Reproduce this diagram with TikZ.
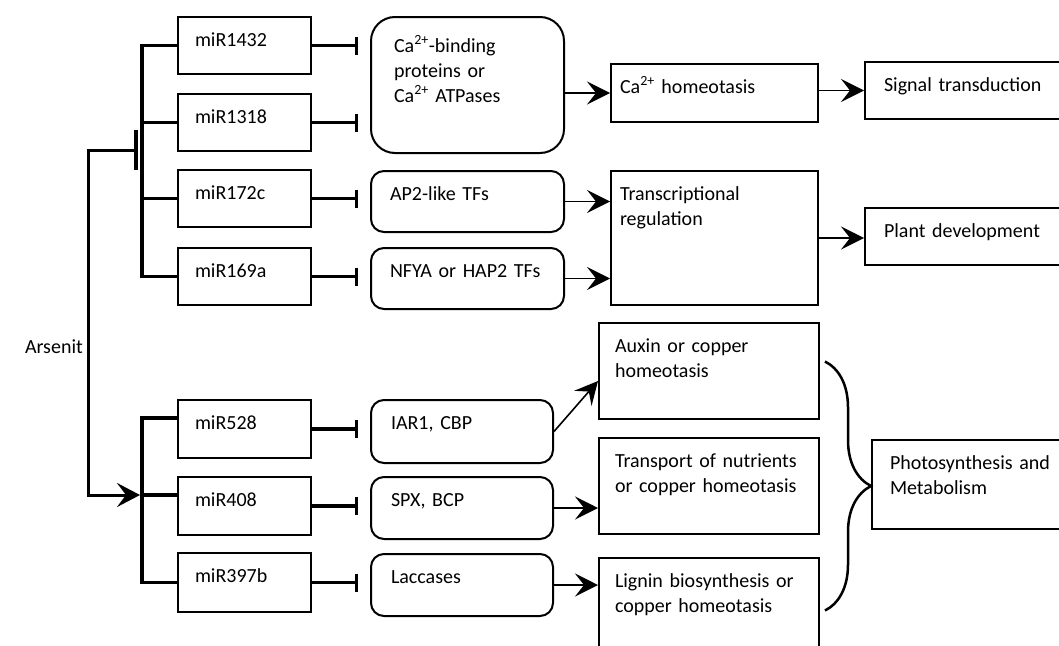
\documentclass[tikz,border=0pt]{standalone}
\usepackage{fontspec}
\setmainfont{Carlito}
\usetikzlibrary{arrows.meta,decorations.pathreplacing}
\tikzset{
    mir/diagram/.style={
        x=1pt, y=-1pt,
        font=\fontsize{20}{25}\selectfont,
        line join=miter
    },
    mir/box/.style={
        draw, line width=2pt, anchor=north west, align=left,
        inner ysep=7pt, text height=22pt
    },
    mir/mirna/.style={mir/box, text width=99pt, inner xsep=17pt, text depth=#1},
    mir/mirna/.default=21pt,
    mir/target/.style={mir/box, rounded corners=13pt, text depth=#1},
    mir/effect/.style={mir/box, text depth=#1},
    mir/upper/.style={text width=155pt, inner xsep=19pt},
    mir/lower/.style={text width=142pt, inner xsep=20pt},
    mir/narrow/.style={text width=189pt, inner xsep=9pt},
    mir/middle/.style={text width=188pt, inner xsep=16pt},
    mir/edge/.style={text width=182pt, inner xsep=19pt},
    mir/stem/.style={line width=3.5pt},
    mir/inhibit/.style={
        line width=3.5pt, shorten >=12pt,
        -{Bar[width=18pt]}
    },
    mir/leads/.style={
        line width=1.6pt,
        -{Stealth[length=23pt, width=23pt, inset=9pt]}
    },
    mir/brace/.style={
        line width=2.5pt,
        decorate, decoration={brace, amplitude=46pt, aspect=0.5}
    }
}
\begin{document}
\begin{tikzpicture}[mir/diagram]
    \useasboundingbox (0,0) rectangle (1059,645);
    \clip (0,0) rectangle (1059,645);
    \node[mir/mirna] (m1432) at (177,16) {miR1432};
    \node[mir/mirna] (m1318) at (177,93) {miR1318};
    \node[mir/mirna] (m172c) at (177,169) {miR172c};
    \node[mir/mirna] (m169a) at (177,247) {miR169a};
    \node[mir/mirna=22pt] (m528) at (177,399) {miR528};
    \node[mir/mirna=22pt] (m408) at (177,476) {miR408};
    \node[mir/mirna=23pt] (m397b) at (177,552) {miR397b};

    \node[mir/target=94pt, rounded corners=24pt, text width=147pt, inner xsep=23pt,
        text height=28pt] (cab) at (370,16)
        {Ca\textsuperscript{2+}-binding\\proteins or\\Ca\textsuperscript{2+} ATPases};
    \node[mir/target=25pt, mir/upper] (ap2) at (370,170) {AP2-like TFs};
    \node[mir/target=25pt, mir/upper] (nfya) at (370,247) {NFYA or HAP2 TFs};
    \node[mir/target=27pt, mir/lower] (iar) at (370,399) {IAR1, CBP};
    \node[mir/target=26pt, mir/lower] (spx) at (370,476) {SPX, BCP};
    \node[mir/target=26pt, mir/lower] (lac) at (370,553) {Laccases};

    \node[mir/effect=22pt, mir/narrow] (cah) at (610,63) {Ca\textsuperscript{2+} homeotasis};
    \node[mir/effect=98pt, mir/narrow] (tr) at (610,170) {Transcriptional\\regulation};
    \node[mir/effect=21pt, mir/edge] (sig) at (864,61) {Signal transduction};
    \node[mir/effect=21pt, mir/edge] (pd) at (864,207) {Plant development};
    \node[mir/effect=60pt, mir/middle] (aux) at (598,322) {Auxin or copper\\homeotasis};
    \node[mir/effect=60pt, mir/middle] (tp) at (598,437) {Transport of nutrients\\or copper homeotasis};
    \node[mir/effect=64pt, mir/middle] (lig) at (598,557) {Lignin biosynthesis or\\copper homeotasis};
    \node[mir/effect=53pt, mir/edge, inner xsep=18pt] (ps) at (871,439) {Photosynthesis and\\Metabolism};

    \node[inner sep=0pt, anchor=east] (ars) at (83,347) {Arsenit};
    \coordinate (split) at ([xshift=5pt]ars.east);
    \coordinate (hubU) at (141,150);
    \coordinate (hubL) at ([xshift=-35pt, yshift=11pt]m408.west);

    \draw[mir/stem] (m1432.west) -- ++(-35,0) |- (m169a.west);
    \foreach \m in {m1318,m172c}
        \draw[mir/stem] (\m.west) -- ++(-35,0);
    \draw[mir/stem] ([yshift=11pt]m528.west) -- ++(-35,0) |- (m397b.west);
    \draw[mir/stem] ([yshift=11pt]m408.west) -- ++(-35,0);

    \draw[line width=3pt, shorten >=3pt, -{Bar[width=40pt, line width=4pt]}] (split) |- (hubU);
    \draw[line width=3pt, shorten >=2pt,
        -{Stealth[length=23pt, width=24pt, inset=9pt]}] (split) |- (hubL);

    \foreach \m/\t in {m1432/cab, m1318/cab, m172c/ap2, m169a/nfya, m528/iar, m408/spx, m397b/lac}
        \draw[mir/inhibit] (\m.east) -- (\m.east -| \t.west);

    \draw[mir/leads] (cah.west -| cab.east) -- (cah.west);
    \draw[mir/leads] (sig.west -| cah.east) -- (sig.west);
    \draw[mir/leads] (ap2.east) -- (ap2.east -| tr.west);
    \draw[mir/leads] (nfya.east) -- (nfya.east -| tr.west);
    \draw[mir/leads] (tr.east) -- (tr.east -| pd.west);
    \draw[mir/leads] (iar.east) -- ([yshift=-10pt]aux.west);
    \draw[mir/leads] (spx.east) -- (spx.east -| tp.west);
    \draw[mir/leads] (lac.east) -- (lac.east -| lig.west);

    \draw[mir/brace] ([xshift=-46pt, yshift=123pt]ps.west) -- ([xshift=-46pt, yshift=-126pt]ps.west);
\end{tikzpicture}
\end{document}
